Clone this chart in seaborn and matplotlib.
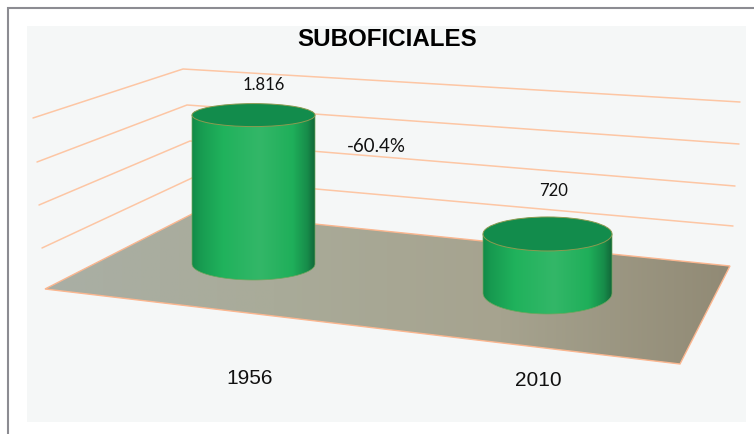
"""
plot.py - SUBOFICIALES 1956 vs 2010, 3D style cylinder chart
"""
import matplotlib

matplotlib.use("Agg")
import matplotlib.pyplot as plt
import numpy as np
import seaborn as sns
from matplotlib.colors import LinearSegmentedColormap
from matplotlib.patches import Ellipse, Polygon, Rectangle

TITLE = "SUBOFICIALES"
YEARS = ["1956", "2010"]
VALUES = [1816, 720]
VALUE_LABELS = ["1.816", "720"]
CHANGE_LABEL = "-60.4%"

W, H = 754, 434
PX_PER_UNIT = 0.082
BASE_Y = 293        # pixel row of value 0 for the front cylinder
CAT_X = (253.5, 547.5)
BAR_BOTTOM_PX = [264, 293]
BAR_WIDTH_PX = [123, 129]
TOP_HALF_PX = [11.5, 17]
BASE_HALF_PX = [16, 21]

GRID = "#FDC6A4"
FLOOR_EDGE = "#FBB68F"
GRID_LINES = [
    [(33, 118), (183, 69), (740, 102)],
    [(37, 162), (187, 105), (739, 144)],
    [(39, 205), (190, 141), (735, 186)],
    [(42, 248), (192, 178), (733, 226)],
]
FLOOR = [(45, 289), (196, 212), (730, 266), (680, 364)]

BODY_CMAP = LinearSegmentedColormap.from_list(
    "body",
    [(0, "#128A48"), (0.06, "#179A50"), (0.25, "#20B25C"), (0.55, "#33B768"),
     (0.82, "#1FAF5A"), (0.94, "#178C4A"), (1, "#12683A")],
)
FLOOR_CMAP = LinearSegmentedColormap.from_list(
    "floor", ["#A9AFA5", "#A9AB99", "#A6A38F", "#918A75"]
)


def draw_background(ax):
    ax.set_xlim(0, W)
    ax.set_ylim(H, 0)
    ax.axis("off")
    ax.add_patch(Rectangle((27, 26), 719, 396, fc="#F5F7F7", ec="none"))
    ax.plot([7.5, 7.5, W], [H, 7.5, 7.5], color="#8C8C92", lw=1.5, solid_joinstyle="miter")
    for line in GRID_LINES:
        xs, ys = zip(*line)
        ax.plot(xs, ys, color=GRID, lw=1.1)

    # floor with a left to right shade
    grad = np.linspace(0, 1, 256).reshape(1, -1)
    im = ax.imshow(grad, cmap=FLOOR_CMAP, extent=(45, 730, 364, 212), aspect="auto", zorder=2)
    poly = Polygon(FLOOR, closed=True, fc="none", ec=FLOOR_EDGE, lw=1.0, zorder=3)
    ax.add_patch(poly)
    im.set_clip_path(poly)
    ax.set_xlim(0, W)
    ax.set_ylim(H, 0)


def draw_cylinders(ax):
    bottoms = [(BASE_Y - b) / PX_PER_UNIT for b in BAR_BOTTOM_PX]
    sns.barplot(x=YEARS, y=VALUES, ax=ax, color="#1FAF5A", width=0.42, bottom=bottoms,
                linewidth=0, zorder=2)

    px_x = CAT_X[1] - CAT_X[0]
    grad = np.linspace(0, 1, 256).reshape(1, -1)
    for i, bar in enumerate(ax.patches):
        cx = bar.get_x() + bar.get_width() / 2
        w = BAR_WIDTH_PX[i] / px_x
        y0 = bar.get_y()
        y1 = y0 + bar.get_height()
        top_h = TOP_HALF_PX[i] / PX_PER_UNIT
        base_h = BASE_HALF_PX[i] / PX_PER_UNIT
        bar.set_visible(False)

        # side of the cylinder: straight top, rounded bottom
        t = np.linspace(np.pi, 2 * np.pi, 80)
        arc = np.column_stack([cx + w / 2 * np.cos(t), y0 + base_h * np.sin(t)])
        outline = np.vstack([[(cx - w / 2, y1)], arc, [(cx + w / 2, y1)]])
        side = Polygon(outline, closed=True, fc="none", ec="#6FA65C", lw=0.5, zorder=4)
        ax.add_patch(side)
        im = ax.imshow(grad, cmap=BODY_CMAP, aspect="auto", zorder=3,
                       extent=(cx - w / 2, cx + w / 2, y0 - base_h, y1))
        im.set_clip_path(side)

        ax.add_patch(Ellipse((cx, y1), w, 2 * top_h, fc="#128C4C", ec="#8C9A50", lw=0.7, zorder=5))

    ax.set_xlim(-CAT_X[0] / px_x, (W - CAT_X[0]) / px_x)
    ax.set_ylim(-(H - BASE_Y) / PX_PER_UNIT, BASE_Y / PX_PER_UNIT)
    ax.axis("off")


def draw_text(ax):
    tr = ax.transData
    ax.text(387, 40, TITLE, transform=tr, ha="center", va="center", fontsize=17.4,
            fontweight="bold", family="Liberation Sans", color="black", zorder=10)
    for label, x, y in zip(VALUE_LABELS, (264, 554), (85, 191)):
        ax.text(x, y, label, transform=tr, ha="center", va="center", fontsize=12,
                family="Lato", color="#111111", zorder=10)
    ax.text(376.5, 146, CHANGE_LABEL, transform=tr, ha="center", va="center", fontsize=13.5,
            family="Lato", color="#111111", zorder=10)
    for label, x, y in zip(YEARS, (250, 538), (378, 380)):
        ax.text(x, y, label, transform=tr, ha="center", va="center", fontsize=15,
                family="Liberation Sans", color="#111111", zorder=10)


def main():
    sns.set_theme(style="white")
    fig = plt.figure(figsize=(W / 100, H / 100), dpi=100, facecolor="white")
    bg = fig.add_axes([0, 0, 1, 1], zorder=0)
    fg = fig.add_axes([0, 0, 1, 1], zorder=1)
    fg.patch.set_visible(False)
    over = fig.add_axes([0, 0, 1, 1], zorder=2)
    over.patch.set_visible(False)

    draw_background(bg)
    draw_cylinders(fg)
    over.set_xlim(0, W)
    over.set_ylim(H, 0)
    over.axis("off")
    draw_text(over)

    fig.savefig("out.png", dpi=100)
    plt.close(fig)


if __name__ == "__main__":
    main()
